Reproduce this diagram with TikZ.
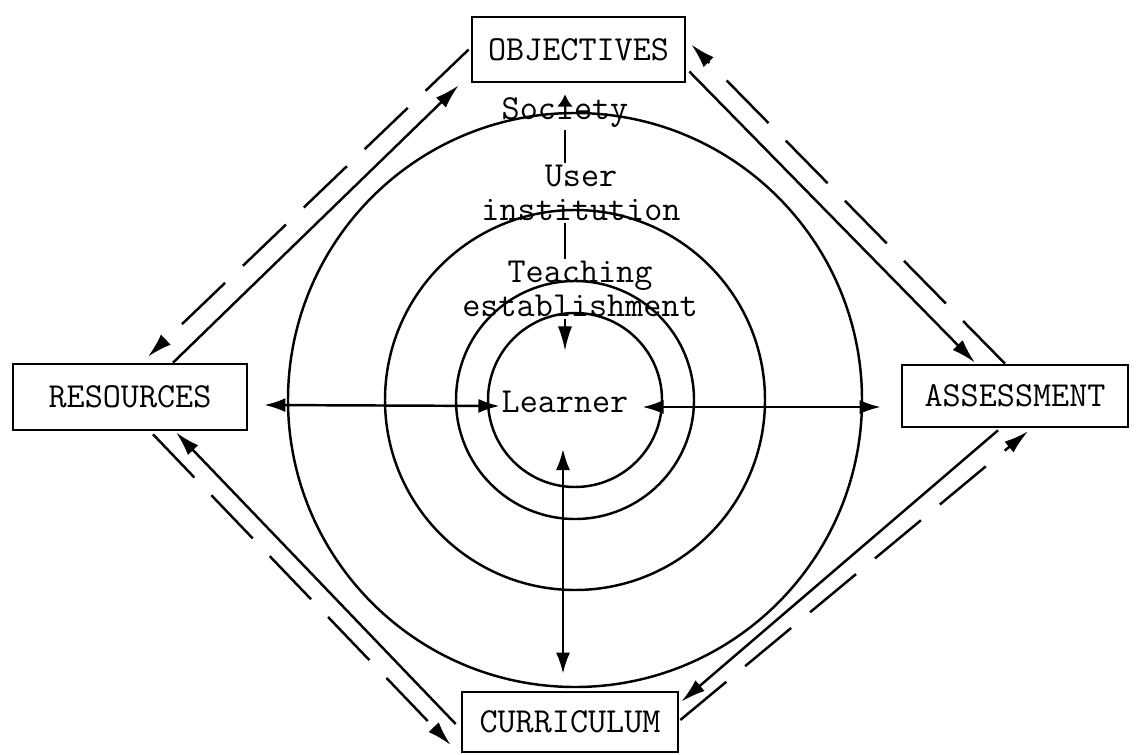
\documentclass[tikz,border=0pt]{standalone}
\usepackage{fontspec}
\usepackage{tikz}
\usetikzlibrary{arrows.meta, calc}

\begin{document}
\begin{tikzpicture}[
    x=0.02cm, y=-0.02cm,
    box/.style={draw, rectangle, line width=1.5pt, minimum height=1.3cm, inner sep=2pt, font=\ttfamily\fontsize{20}{19}\selectfont},
    lbl/.style={align=center, inner sep=1pt, font=\ttfamily\fontsize{20}{19.5}\selectfont},
    ring/.style={line width=1.4pt},
    tick/.style={line width=0.9pt},
    arrow/.style={-{Latex[length=14pt, width=8pt]}, line width=1.4pt},
    dblarrow/.style={{Latex[length=12pt, width=8pt]}-{Latex[length=12pt, width=8pt]}, line width=1.4pt},
    dasharrow/.style={arrow, dash pattern=on 34pt off 14pt}
]
    \useasboundingbox (0,0) rectangle (1139,754);

    % the four stages
    \node[box, minimum width=4.26cm] (obj) at (578.5,49.5) {OBJECTIVES};
    \node[box, minimum width=4.68cm, minimum height=1.32cm] (res) at (130,397) {RESOURCES};
    \node[box, minimum width=4.52cm, minimum height=1.24cm] (ass) at (1015,396) {ASSESSMENT};
    \node[box, minimum width=4.32cm, minimum height=1.2cm] (cur) at (570,722) {CURRICULUM};

    % rings round the learner
    \coordinate (ctr) at (575,400);
    \foreach \r in {287,190,119,87}
        \draw[ring] (ctr) circle[radius=\r];

    \node[lbl] (soc) at (565,113) {Society};
    \node[lbl] (user) at (581,193) {User\\institution};
    \node[lbl] (teach) at (580,289) {Teaching\\establishment};
    \node[lbl] (learner) at (565,402) {Learner};

    \draw[tick] (soc.south) -- (soc.south |- user.north);
    \draw[tick] (user.south -| soc.south) -- (soc.south |- teach.north);
    \draw[arrow] (teach.south -| learner) -- ($(learner.north)+(0,-38)$);
    \draw[-{Latex[length=7pt, width=9pt]}, line width=1.4pt] ($(soc.north)+(0,6)$) -- ($(obj.south)+(-13.5,11)$);

    \draw[dblarrow] ($(res.east)+(16,8)$) -- ($(learner.west)+(0,4)$);
    \draw[dblarrow] ($(learner.east)+(12,5)$) -- ($(ass.west)+(-20,11)$);
    \draw[dblarrow] ($(learner.south)+(-2,34)$) -- ($(cur.north)+(-7,-17)$);

    % solid, clockwise
    \draw[arrow] ($(res.north)+(43,0)$) -- ($(obj.south west)+(-12,2)$);
    \draw[arrow] ($(obj.east)+(3,22)$) -- ($(ass.north)+(-40,-1)$);
    \draw[arrow] ($(ass.south)+(-17,2)$) -- ($(cur.north east)+(2,11)$);
    \draw[arrow] ($(cur.west)+(-5,2)$) -- ($(res.south)+(46,1)$);
    % dashed, anticlockwise
    \draw[dasharrow] ($(obj.west)+(-2,0)$) -- ($(res.north)+(18,-6)$);
    \draw[dasharrow] ($(res.south)+(23,3)$) -- ($(cur.west)+(-10,23)$);
    \draw[dasharrow] ($(cur.east)+(1,-2)$) -- ($(ass.south)+(13,3)$);
    \draw[dasharrow] ($(ass.north)+(-10,0)$) -- ($(obj.east)+(5,-5)$);
\end{tikzpicture}
\end{document}
